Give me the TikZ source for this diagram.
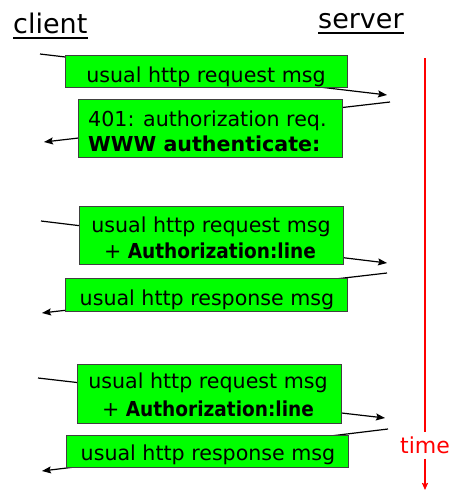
\documentclass[tikz,border=0pt]{standalone}
\usepackage{fontspec}
\setmainfont{DejaVu Sans}
\newfontfamily\condfont{DejaVu Sans Condensed}
\usetikzlibrary{arrows.meta}
\begin{document}
\begin{tikzpicture}[x=1pt,y=-1pt,
  box/.style={draw=black!75, line width=0.9pt, fill=green, inner sep=0pt, outer sep=0pt},
  msg/.style={inner sep=0pt, font=\fontsize{20.6}{24}\selectfont},
  ttl/.style={inner sep=0pt, font=\fontsize{27}{30}\selectfont, anchor=base west},
  link/.style={line width=1.2pt, black, -{Stealth[length=9pt,width=7pt,inset=1.5pt]}},
  tline/.style={line width=1.5pt, red}]
\useasboundingbox (0,0) rectangle (452,491);
% titles
\node[ttl] (client) at (13,33) {client};
\node[ttl] (server) at (318,28) {server};
\draw[line width=1.8pt] ([yshift=-5pt]client.base west) -- ([yshift=-5pt]client.base east);
\draw[line width=1.8pt] ([yshift=-5pt]server.base west) -- ([yshift=-5pt]server.base east);
% message end points
\coordinate (c1) at (40,54);  \coordinate (s1) at (387,95);
\coordinate (s2) at (390,102); \coordinate (c2) at (44,142);
\coordinate (c3) at (41,221); \coordinate (s3) at (387,263);
\coordinate (s4) at (387,273); \coordinate (c4) at (42,313);
\coordinate (c5) at (38,378); \coordinate (s5) at (385,418);
\coordinate (s6) at (388,429); \coordinate (c6) at (42,471);
\draw[link] (c1) -- (s1);
\draw[link] (s2) -- (c2);
\draw[link] (c3) -- (s3);
\draw[link] (s4) -- (c4);
\draw[link] (c5) -- (s5);
\draw[link] (s6) -- (c6);
% boxes
\node[box, minimum width=282pt, minimum height=32pt] (b1) at (206,71) {};
\node[box, minimum width=264pt, minimum height=58pt] (b2) at (210,128) {};
\node[box, minimum width=264pt, minimum height=58pt] (b3) at (211,235) {};
\node[box, minimum width=282pt, minimum height=33pt] (b4) at (206,294.5) {};
\node[box, minimum width=264pt, minimum height=59pt] (b5) at (209,393.5) {};
\node[box, minimum width=282pt, minimum height=32pt] (b6) at (207,451) {};
% texts
\node[msg, anchor=base] (t1) at (206,82) {usual http request msg};
\node[msg, anchor=base west] (t2a) at (88,126) {401: authorization req.};
\node[msg, anchor=base west] (t2b) at (88,151) {\bfseries WWW authenticate:};
\node[msg, anchor=base] (t3a) at (211,232) {usual http request msg};
\node[msg, anchor=base] (t3b) at (210,258) {+ {\condfont\bfseries Authorization:line}};
\node[msg, anchor=base] (t4) at (207,305) {usual http response msg};
\node[msg, anchor=base] (t5a) at (208,388.5) {usual http request msg};
\node[msg, anchor=base] (t5b) at (208,416.5) {+ {\condfont\bfseries Authorization:line}};
\node[msg, anchor=base] (t6) at (208,460) {usual http response msg};
% time axis
\coordinate (ttop) at (425,58);
\coordinate (tbot) at (425,490);
\node[inner sep=0pt, text=red, font=\fontsize{22}{24}\selectfont, anchor=base] (time) at (425,453) {time};
\draw[tline] (ttop) -- ([yshift=4pt]time.north);
\draw[tline, -{Stealth[length=7pt,width=6pt,inset=1pt]}] ([yshift=-5pt]time.south) -- (tbot);
\end{tikzpicture}
\end{document}
